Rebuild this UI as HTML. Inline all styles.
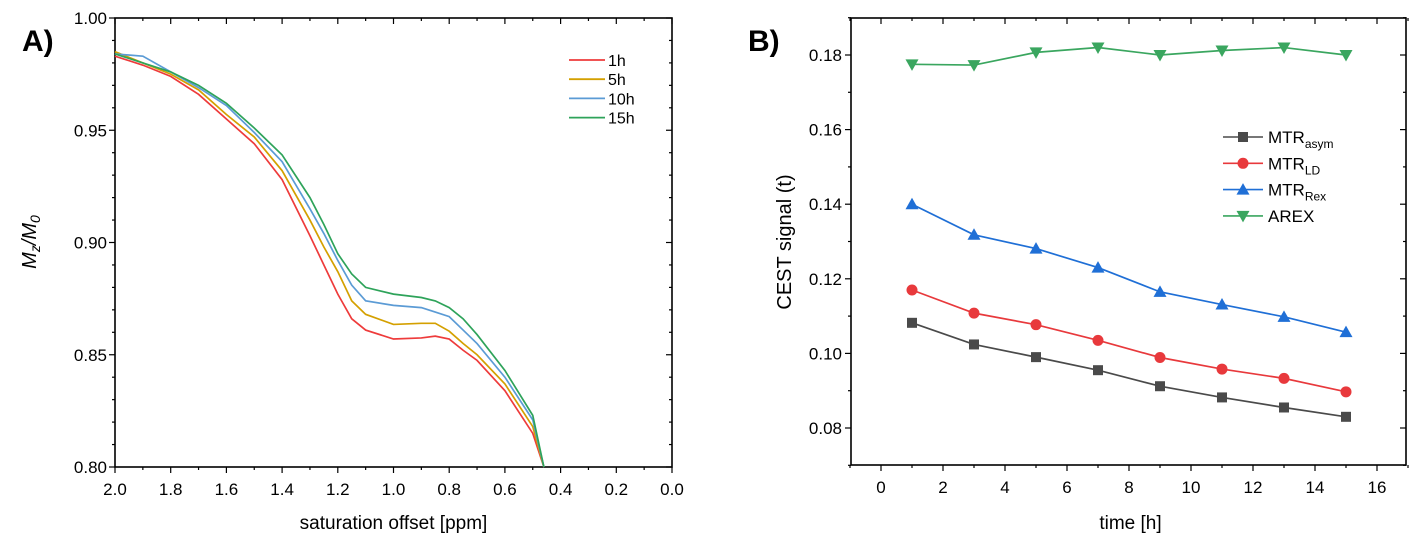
<!DOCTYPE html>
<html><head><meta charset="utf-8"><style>
body{margin:0;background:#fff;}
svg{display:block;font-family:"Liberation Sans",Arial,sans-serif;}
</style></head><body>
<svg id="fig" width="1409" height="541" viewBox="0 0 1409 541" xmlns="http://www.w3.org/2000/svg">
<text x="22" y="51" font-size="30" font-weight="bold">A)</text>
<text x="748" y="51" font-size="30" font-weight="bold">B)</text>
<g id="ga"></g>
<g id="gb"></g>
</svg>
<script>
// ---------- Panel A data ----------
const aOffsets = [2.0,1.9,1.8,1.7,1.6,1.5,1.4,1.3,1.25,1.2,1.15,1.1,1.0,0.9,0.85,0.8,0.75,0.7,0.6,0.5,0.46];
const a1h  = [0.983,0.979,0.974,0.966,0.955,0.944,0.928,0.903,0.890,0.877,0.866,0.861,0.857,0.8575,0.8583,0.857,0.852,0.8475,0.834,0.815,0.800];
const a5h  = [0.985,0.980,0.975,0.968,0.957,0.947,0.932,0.910,0.898,0.887,0.874,0.868,0.8635,0.864,0.864,0.8605,0.855,0.850,0.837,0.818,0.800];
const a10h = [0.984,0.983,0.976,0.969,0.961,0.949,0.936,0.915,0.904,0.892,0.881,0.874,0.872,0.871,0.869,0.867,0.861,0.855,0.840,0.821,0.800];
const a15h = [0.984,0.980,0.976,0.970,0.962,0.951,0.939,0.920,0.908,0.895,0.886,0.880,0.877,0.8755,0.874,0.871,0.866,0.859,0.843,0.823,0.800];
const aSeriesNames = ["1h","5h","10h","15h"];
const aXTicks = ["2.0","1.8","1.6","1.4","1.2","1.0","0.8","0.6","0.4","0.2","0.0"];
const aYTicks = ["0.80","0.85","0.90","0.95","1.00"];
// ---------- Panel B data ----------
const bTimes = [1,3,5,7,9,11,13,15];
const bAsym = [0.1082,0.1024,0.0990,0.0955,0.0912,0.0882,0.0855,0.0830];
const bLD   = [0.1170,0.1108,0.1077,0.1035,0.0989,0.0958,0.0933,0.0897];
const bRex  = [0.1400,0.1318,0.1281,0.1230,0.1165,0.1131,0.1098,0.1057];
const bArex = [0.1775,0.1773,0.1807,0.1820,0.1800,0.1812,0.1820,0.1800];
const bXTicks = ["0","2","4","6","8","10","12","14","16"];
const bYTicks = ["0.08","0.10","0.12","0.14","0.16","0.18"];

const NS="http://www.w3.org/2000/svg";
function mk(parent,tag,attrs,txt){const e=document.createElementNS(NS,tag);for(const k in attrs)e.setAttribute(k,attrs[k]);if(txt!==undefined)e.textContent=txt;parent.appendChild(e);return e;}

// ===== Panel A =====
const ga=document.getElementById('ga');
const AL=115,AR=672,AT=18,AB=467;
const ax=v=>AL+(2.0-v)/2.0*(AR-AL);
const ay=v=>AT+(1.0-v)/0.2*(AB-AT);
let r=mk(ga,'rect',{x:AL,y:AT,width:AR-AL,height:AB-AT,fill:'none',stroke:'#000','stroke-width':1.6});


for(let i=0;i<=20;i++){const v=2-i*0.1;const x=ax(v);const major=i%2===0;
  mk(ga,'line',{x1:x,y1:AB,x2:x,y2:AB+(major?6:3),stroke:'#000','stroke-width':1.2});
  mk(ga,'line',{x1:x,y1:AT,x2:x,y2:AT+(major?6:3),stroke:'#000','stroke-width':1.2});}
aXTicks.forEach(t=>{const e=mk(ga,'text',{x:ax(parseFloat(t)),y:AB+28,'font-size':17,'text-anchor':'middle'},t);
  
  });
for(let i=0;i<=20;i++){const v=0.8+i*0.01;const y=ay(v);const major=i%5===0;
  mk(ga,'line',{x1:AL,y1:y,x2:AL-(major?6:3),y2:y,stroke:'#000','stroke-width':1.2});
  mk(ga,'line',{x1:AR,y1:y,x2:AR-(major?6:3),y2:y,stroke:'#000','stroke-width':1.2});}
aYTicks.forEach(t=>{const e=mk(ga,'text',{x:AL-8,y:ay(parseFloat(t))+6,'font-size':17,'text-anchor':'end'},t);
  
  });
let xt=mk(ga,'text',{x:(AL+AR)/2,y:529,'font-size':19,'text-anchor':'middle'},'saturation offset [ppm]');


let yt=mk(ga,'text',{transform:'translate(36,242) rotate(-90)','font-size':20,'text-anchor':'middle','font-style':'italic'});


mk(yt,'tspan',{},'M');mk(yt,'tspan',{'font-size':14,dy:4},'z');mk(yt,'tspan',{dy:-4},'/M');mk(yt,'tspan',{'font-size':14,dy:4},'0');
const aColors=["#ee3b3b","#d4a000","#5b9bd5","#2ea35a"];
[a1h,a5h,a10h,a15h].forEach((s,si)=>{
  const p=mk(ga,'polyline',{points:s.map((v,i)=>ax(aOffsets[i])+','+ay(v)).join(' '),fill:'none',stroke:aColors[si],'stroke-width':1.7});
  
  
  const y=60+si*19.2;
  const lg=mk(ga,'g',{});
  
  
  mk(lg,'line',{x1:569,y1:y,x2:605,y2:y,stroke:aColors[si],'stroke-width':1.8});
  mk(lg,'text',{x:608,y:y+6,'font-size':16},aSeriesNames[si]);
});

// ===== Panel B =====
const gb=document.getElementById('gb');
const BL=851,BR=1406,BT=18,BB=465;
const bx=v=>881+v*31;
const by=v=>55+(0.18-v)/0.01*37.3;
r=mk(gb,'rect',{x:BL,y:BT,width:BR-BL,height:BB-BT,fill:'none',stroke:'#000','stroke-width':1.6});


for(let t=-1;t<=17;t++){const x=bx(t);const major=t%2===0;
  mk(gb,'line',{x1:x,y1:BB,x2:x,y2:BB+(major?6:3),stroke:'#000','stroke-width':1.2});
  mk(gb,'line',{x1:x,y1:BT,x2:x,y2:BT+(major?6:3),stroke:'#000','stroke-width':1.2});}
bXTicks.forEach(t=>{const e=mk(gb,'text',{x:bx(parseFloat(t)),y:BB+28,'font-size':17,'text-anchor':'middle'},t);
  
  });
for(let i=7;i<=19;i++){const v=i*0.01;const y=by(v);const major=i%2===0;
  mk(gb,'line',{x1:BL,y1:y,x2:BL-(major?6:3),y2:y,stroke:'#000','stroke-width':1.2});
  mk(gb,'line',{x1:BR,y1:y,x2:BR-(major?6:3),y2:y,stroke:'#000','stroke-width':1.2});}
bYTicks.forEach(t=>{const e=mk(gb,'text',{x:BL-9,y:by(parseFloat(t))+6,'font-size':17,'text-anchor':'end'},t);
  
  });
xt=mk(gb,'text',{x:(BL+BR)/2+2,y:529,'font-size':19,'text-anchor':'middle'},'time [h]');


yt=mk(gb,'text',{transform:'translate(791,242) rotate(-90)','font-size':20,'text-anchor':'middle'},'CEST signal (t)');



function marker(g,type,x,y,c){
  if(type==='sq')return mk(g,'rect',{x:x-5,y:y-5,width:10,height:10,fill:c});
  if(type==='ci')return mk(g,'circle',{cx:x,cy:y,r:5.5,fill:c});
  if(type==='up')return mk(g,'polygon',{points:`${x},${y-6.5} ${x+6.5},${y+5} ${x-6.5},${y+5}`,fill:c});
  return mk(g,'polygon',{points:`${x},${y+6.5} ${x+6.5},${y-5} ${x-6.5},${y-5}`,fill:c});
}
const bSeries=[
  {name:'mtr-asym',vals:bAsym,c:'#4a4a4a',m:'sq',lab:['MTR','asym']},
  {name:'mtr-ld',vals:bLD,c:'#e8393c',m:'ci',lab:['MTR','LD']},
  {name:'mtr-rex',vals:bRex,c:'#1f6fd6',m:'up',lab:['MTR','Rex']},
  {name:'arex',vals:bArex,c:'#3aa65f',m:'dn',lab:['AREX','']}
];
bSeries.forEach((s,si)=>{
  const g=mk(gb,'g',{});
  
  
  mk(g,'polyline',{points:s.vals.map((v,i)=>bx(bTimes[i])+','+by(v)).join(' '),fill:'none',stroke:s.c,'stroke-width':1.7});
  s.vals.forEach((v,i)=>{const m=marker(g,s.m,bx(bTimes[i]),by(v),s.c);
    
    });
  const y=137+si*26.3;
  const lg=mk(gb,'g',{});
  
  
  mk(lg,'line',{x1:1223,y1:y,x2:1263,y2:y,stroke:s.c,'stroke-width':1.6});
  marker(lg,s.m,1243,y,s.c);
  const t=mk(lg,'text',{x:1268,y:y+6,'font-size':17},s.lab[0]);
  if(s.lab[1])mk(t,'tspan',{'font-size':12,dy:5},s.lab[1]);
});
</script>
</body></html>
